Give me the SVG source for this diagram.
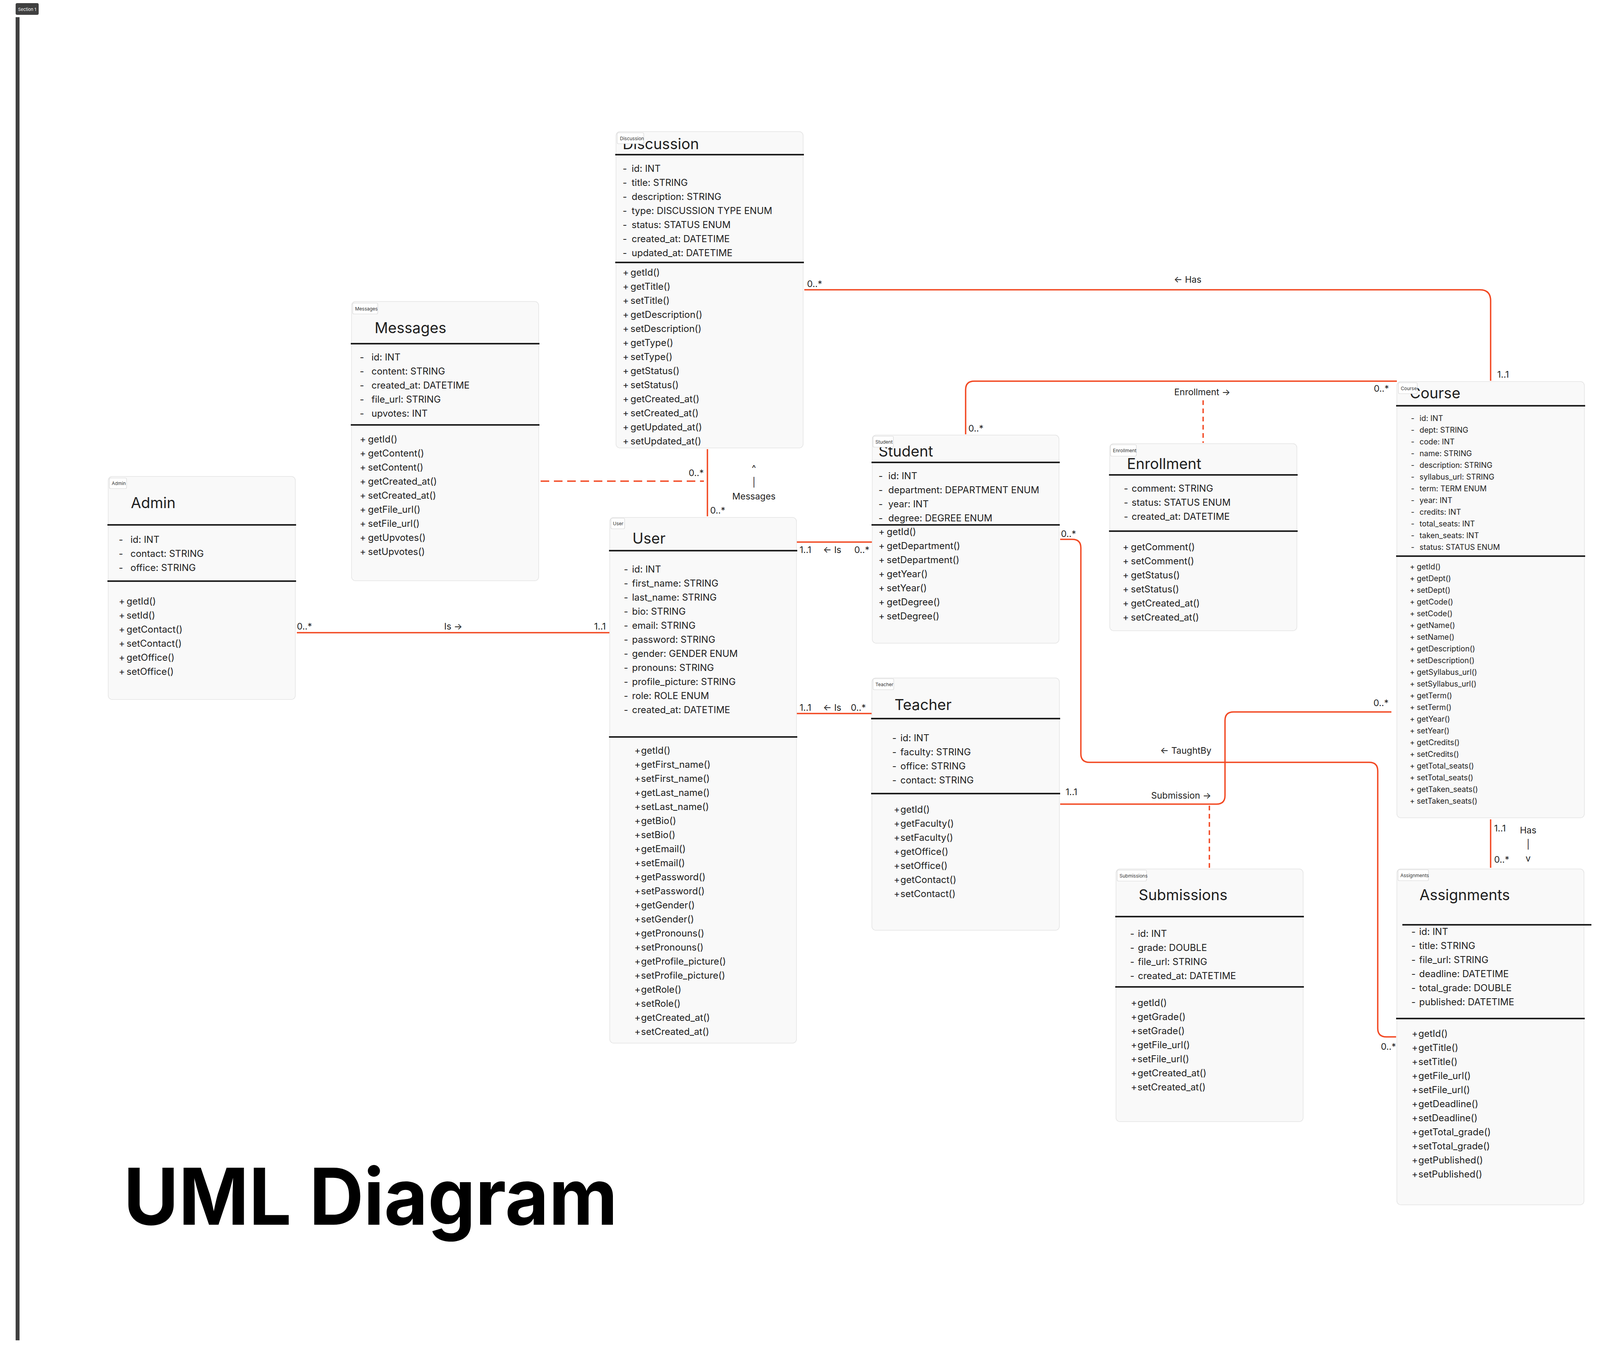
<svg xmlns="http://www.w3.org/2000/svg" width="4522" height="3467" viewBox="0 0 4522 3467">
<style>
text{font-family:Inter,"Liberation Sans",sans-serif;fill:#1e1e1e}
.box{fill:#f9f9f9;stroke:#e3e3e3;stroke-width:1.5}
.dv{stroke:#1e1e1e;stroke-width:4}
.tag{fill:#ffffff;stroke:#d6d6d6;stroke-width:1.2}
.tagt{font-size:12px;fill:#333}
.title{font-size:38px}
.row{font-size:24px}
.rowc{font-size:19.5px}
.conn{fill:none;stroke:#f24822;stroke-width:3.5}
.dash{stroke-dasharray:12 9}
.dash2{stroke-dasharray:22 12}
.lbl{font-size:23px}
.mid{text-anchor:middle}
</style>
<rect width="4522" height="3467" fill="#ffffff"/>
<g id="section-frame">
<rect x="40" y="44" width="10" height="3388" fill="#404040"/>
<rect x="4480" y="44" width="2" height="3388" fill="#4a4a4a"/>
<rect x="40" y="8" width="59" height="30" rx="4" fill="#404040"/>
<text x="69.5" y="27.5" font-size="11" style="fill:#ffffff" class="mid">Section 1</text>
</g>
<g id="connectors">
<path class="conn" d="M2059,742 H3788 Q3816,742 3816,770 V975"/>
<path class="conn" d="M2472,1112 V998 Q2472,976 2494,976 H3576"/>
<path class="conn dash" d="M3080,1025 V1134"/>
<path class="conn" d="M2040,1388 H2232"/>
<path class="conn" d="M2040,1827 H2232"/>
<path class="conn" d="M760,1620 H1560"/>
<path class="conn" d="M1811,1150 V1322"/>
<path class="conn dash2" d="M1384,1232 H1802"/>
<path class="conn" d="M2714,1381 H2745 Q2767,1381 2767,1403 V1930 Q2767,1952 2789,1952 H3505 Q3527,1952 3527,1974 V2633 Q3527,2655 3549,2655 H3574"/>
<path class="conn" d="M2714,2059 H3114 Q3136,2059 3136,2037 V1845 Q3136,1823 3158,1823 H3562"/>
<path class="conn dash" d="M3096,2063 V2222"/>
<path class="conn" d="M3816,2098 V2222"/>
<text class="lbl" x="2066" y="735">0..*</text>
<text class="lbl" x="3005" y="724">← Has</text>
<text class="lbl" x="3833" y="967">1..1</text>
<text class="lbl" x="2479" y="1105">0..*</text>
<text class="lbl" x="3517" y="1003">0..*</text>
<text class="lbl" x="3006" y="1012">Enrollment →</text>
<text class="lbl" x="2047" y="1416">1..1</text>
<text class="lbl" x="2107" y="1416">← Is</text>
<text class="lbl" x="2187" y="1416">0..*</text>
<text class="lbl" x="2047" y="1820">1..1</text>
<text class="lbl" x="2107" y="1820">← Is</text>
<text class="lbl" x="2178" y="1820">0..*</text>
<text class="lbl" x="760" y="1612">0..*</text>
<text class="lbl" x="1137" y="1612">Is →</text>
<text class="lbl" x="1521" y="1612">1..1</text>
<text class="lbl" x="1818" y="1315">0..*</text>
<text class="lbl" x="1763" y="1219">0..*</text>
<text class="lbl mid" x="1930" y="1207">^</text>
<text class="lbl mid" x="1930" y="1243">|</text>
<text class="lbl mid" x="1930" y="1279">Messages</text>
<text class="lbl" x="2716" y="1375">0..*</text>
<text class="lbl" x="2970" y="1930">← TaughtBy</text>
<text class="lbl" x="3535" y="2688">0..*</text>
<text class="lbl" x="2728" y="2036">1..1</text>
<text class="lbl" x="2947" y="2045">Submission →</text>
<text class="lbl" x="3516" y="1808">0..*</text>
<text class="lbl" x="3825" y="2129">1..1</text>
<text class="lbl" x="3825" y="2209">0..*</text>
<text class="lbl mid" x="3912" y="2134">Has</text>
<text class="lbl mid" x="3912" y="2170">|</text>
<text class="lbl mid" x="3912" y="2206">v</text>
</g>
<g id="node-discussion">
<rect class="box" x="1577" y="337" width="479" height="810" rx="10"/>
<text class="title" x="1594" y="382">Discussion</text>
<rect class="tag" x="1580" y="340" width="68" height="28" rx="3"/>
<text class="tagt" x="1587" y="359">Discussion</text>
<line class="dv" x1="1575" y1="396" x2="2058" y2="396"/>
<line class="dv" x1="1575" y1="672" x2="2058" y2="672"/>
<text class="row"><tspan x="1594" y="440">-</tspan><tspan x="1617" y="440">id: INT</tspan><tspan x="1594" y="476">-</tspan><tspan x="1617" y="476">title: STRING</tspan><tspan x="1594" y="512">-</tspan><tspan x="1617" y="512">description: STRING</tspan><tspan x="1594" y="548">-</tspan><tspan x="1617" y="548">type: DISCUSSION TYPE ENUM</tspan><tspan x="1594" y="584">-</tspan><tspan x="1617" y="584">status: STATUS ENUM</tspan><tspan x="1594" y="620">-</tspan><tspan x="1617" y="620">created_at: DATETIME</tspan><tspan x="1594" y="656">-</tspan><tspan x="1617" y="656">updated_at: DATETIME</tspan></text>
<text class="row"><tspan x="1594" y="706">+</tspan><tspan x="1614" y="706">getId()</tspan><tspan x="1594" y="742">+</tspan><tspan x="1614" y="742">getTitle()</tspan><tspan x="1594" y="778">+</tspan><tspan x="1614" y="778">setTitle()</tspan><tspan x="1594" y="814">+</tspan><tspan x="1614" y="814">getDescription()</tspan><tspan x="1594" y="850">+</tspan><tspan x="1614" y="850">setDescription()</tspan><tspan x="1594" y="886">+</tspan><tspan x="1614" y="886">getType()</tspan><tspan x="1594" y="922">+</tspan><tspan x="1614" y="922">setType()</tspan><tspan x="1594" y="958">+</tspan><tspan x="1614" y="958">getStatus()</tspan><tspan x="1594" y="994">+</tspan><tspan x="1614" y="994">setStatus()</tspan><tspan x="1594" y="1030">+</tspan><tspan x="1614" y="1030">getCreated_at()</tspan><tspan x="1594" y="1066">+</tspan><tspan x="1614" y="1066">setCreated_at()</tspan><tspan x="1594" y="1102">+</tspan><tspan x="1614" y="1102">getUpdated_at()</tspan><tspan x="1594" y="1138">+</tspan><tspan x="1614" y="1138">setUpdated_at()</tspan></text>
</g>
<g id="node-messages">
<rect class="box" x="900" y="772" width="479" height="715" rx="10"/>
<text class="title" x="959" y="853">Messages</text>
<rect class="tag" x="903" y="776" width="64" height="28" rx="3"/>
<text class="tagt" x="909" y="795">Messages</text>
<line class="dv" x1="898" y1="880" x2="1381" y2="880"/>
<line class="dv" x1="898" y1="1088" x2="1381" y2="1088"/>
<text class="row"><tspan x="921" y="923">-</tspan><tspan x="951" y="923">id: INT</tspan><tspan x="921" y="959">-</tspan><tspan x="951" y="959">content: STRING</tspan><tspan x="921" y="995">-</tspan><tspan x="951" y="995">created_at: DATETIME</tspan><tspan x="921" y="1031">-</tspan><tspan x="951" y="1031">file_url: STRING</tspan><tspan x="921" y="1067">-</tspan><tspan x="951" y="1067">upvotes: INT</tspan></text>
<text class="row"><tspan x="921" y="1133">+</tspan><tspan x="942" y="1133">getId()</tspan><tspan x="921" y="1169">+</tspan><tspan x="942" y="1169">getContent()</tspan><tspan x="921" y="1205">+</tspan><tspan x="942" y="1205">setContent()</tspan><tspan x="921" y="1241">+</tspan><tspan x="942" y="1241">getCreated_at()</tspan><tspan x="921" y="1277">+</tspan><tspan x="942" y="1277">setCreated_at()</tspan><tspan x="921" y="1313">+</tspan><tspan x="942" y="1313">getFile_url()</tspan><tspan x="921" y="1349">+</tspan><tspan x="942" y="1349">setFile_url()</tspan><tspan x="921" y="1385">+</tspan><tspan x="942" y="1385">getUpvotes()</tspan><tspan x="921" y="1421">+</tspan><tspan x="942" y="1421">setUpvotes()</tspan></text>
</g>
<g id="node-admin">
<rect class="box" x="277" y="1220" width="479" height="571" rx="10"/>
<text class="title" x="335" y="1301">Admin</text>
<rect class="tag" x="280" y="1224" width="44" height="27" rx="3"/>
<text class="tagt" x="286" y="1242">Admin</text>
<line class="dv" x1="275" y1="1344" x2="758" y2="1344"/>
<line class="dv" x1="275" y1="1488" x2="758" y2="1488"/>
<text class="row"><tspan x="304" y="1390">-</tspan><tspan x="334" y="1390">id: INT</tspan><tspan x="304" y="1426">-</tspan><tspan x="334" y="1426">contact: STRING</tspan><tspan x="304" y="1462">-</tspan><tspan x="334" y="1462">office: STRING</tspan></text>
<text class="row"><tspan x="304" y="1548">+</tspan><tspan x="324" y="1548">getId()</tspan><tspan x="304" y="1584">+</tspan><tspan x="324" y="1584">setId()</tspan><tspan x="304" y="1620">+</tspan><tspan x="324" y="1620">getContact()</tspan><tspan x="304" y="1656">+</tspan><tspan x="324" y="1656">setContact()</tspan><tspan x="304" y="1692">+</tspan><tspan x="324" y="1692">getOffice()</tspan><tspan x="304" y="1728">+</tspan><tspan x="324" y="1728">setOffice()</tspan></text>
</g>
<g id="node-user">
<rect class="box" x="1561" y="1325" width="478" height="1346" rx="10"/>
<text class="title" x="1619" y="1392">User</text>
<rect class="tag" x="1564" y="1327" width="35" height="27" rx="3"/>
<text class="tagt" x="1569" y="1345">User</text>
<line class="dv" x1="1559" y1="1410" x2="2041" y2="1410"/>
<line class="dv" x1="1559" y1="1887" x2="2041" y2="1887"/>
<text class="row"><tspan x="1597" y="1466">-</tspan><tspan x="1618" y="1466">id: INT</tspan><tspan x="1597" y="1502">-</tspan><tspan x="1618" y="1502">first_name: STRING</tspan><tspan x="1597" y="1538">-</tspan><tspan x="1618" y="1538">last_name: STRING</tspan><tspan x="1597" y="1574">-</tspan><tspan x="1618" y="1574">bio: STRING</tspan><tspan x="1597" y="1610">-</tspan><tspan x="1618" y="1610">email: STRING</tspan><tspan x="1597" y="1646">-</tspan><tspan x="1618" y="1646">password: STRING</tspan><tspan x="1597" y="1682">-</tspan><tspan x="1618" y="1682">gender: GENDER ENUM</tspan><tspan x="1597" y="1718">-</tspan><tspan x="1618" y="1718">pronouns: STRING</tspan><tspan x="1597" y="1754">-</tspan><tspan x="1618" y="1754">profile_picture: STRING</tspan><tspan x="1597" y="1790">-</tspan><tspan x="1618" y="1790">role: ROLE ENUM</tspan><tspan x="1597" y="1826">-</tspan><tspan x="1618" y="1826">created_at: DATETIME</tspan></text>
<text class="row"><tspan x="1624" y="1930">+</tspan><tspan x="1641" y="1930">getId()</tspan><tspan x="1624" y="1966">+</tspan><tspan x="1641" y="1966">getFirst_name()</tspan><tspan x="1624" y="2002">+</tspan><tspan x="1641" y="2002">setFirst_name()</tspan><tspan x="1624" y="2038">+</tspan><tspan x="1641" y="2038">getLast_name()</tspan><tspan x="1624" y="2074">+</tspan><tspan x="1641" y="2074">setLast_name()</tspan><tspan x="1624" y="2110">+</tspan><tspan x="1641" y="2110">getBio()</tspan><tspan x="1624" y="2146">+</tspan><tspan x="1641" y="2146">setBio()</tspan><tspan x="1624" y="2182">+</tspan><tspan x="1641" y="2182">getEmail()</tspan><tspan x="1624" y="2218">+</tspan><tspan x="1641" y="2218">setEmail()</tspan><tspan x="1624" y="2254">+</tspan><tspan x="1641" y="2254">getPassword()</tspan><tspan x="1624" y="2290">+</tspan><tspan x="1641" y="2290">setPassword()</tspan><tspan x="1624" y="2326">+</tspan><tspan x="1641" y="2326">getGender()</tspan><tspan x="1624" y="2362">+</tspan><tspan x="1641" y="2362">setGender()</tspan><tspan x="1624" y="2398">+</tspan><tspan x="1641" y="2398">getPronouns()</tspan><tspan x="1624" y="2434">+</tspan><tspan x="1641" y="2434">setPronouns()</tspan><tspan x="1624" y="2470">+</tspan><tspan x="1641" y="2470">getProfile_picture()</tspan><tspan x="1624" y="2506">+</tspan><tspan x="1641" y="2506">setProfile_picture()</tspan><tspan x="1624" y="2542">+</tspan><tspan x="1641" y="2542">getRole()</tspan><tspan x="1624" y="2578">+</tspan><tspan x="1641" y="2578">setRole()</tspan><tspan x="1624" y="2614">+</tspan><tspan x="1641" y="2614">getCreated_at()</tspan><tspan x="1624" y="2650">+</tspan><tspan x="1641" y="2650">setCreated_at()</tspan></text>
</g>
<g id="node-student">
<rect class="box" x="2233" y="1114" width="478" height="533" rx="10"/>
<text class="title" x="2249" y="1169">Student</text>
<rect class="tag" x="2235" y="1117" width="52" height="28" rx="3"/>
<text class="tagt" x="2241" y="1136">Student</text>
<line class="dv" x1="2231" y1="1184" x2="2713" y2="1184"/>
<line class="dv" x1="2231" y1="1344" x2="2713" y2="1344"/>
<text class="row"><tspan x="2249" y="1227">-</tspan><tspan x="2274" y="1227">id: INT</tspan><tspan x="2249" y="1263">-</tspan><tspan x="2274" y="1263">department: DEPARTMENT ENUM</tspan><tspan x="2249" y="1299">-</tspan><tspan x="2274" y="1299">year: INT</tspan><tspan x="2249" y="1335">-</tspan><tspan x="2274" y="1335">degree: DEGREE ENUM</tspan></text>
<text class="row"><tspan x="2249" y="1370">+</tspan><tspan x="2270" y="1370">getId()</tspan><tspan x="2249" y="1406">+</tspan><tspan x="2270" y="1406">getDepartment()</tspan><tspan x="2249" y="1442">+</tspan><tspan x="2270" y="1442">setDepartment()</tspan><tspan x="2249" y="1478">+</tspan><tspan x="2270" y="1478">getYear()</tspan><tspan x="2249" y="1514">+</tspan><tspan x="2270" y="1514">setYear()</tspan><tspan x="2249" y="1550">+</tspan><tspan x="2270" y="1550">getDegree()</tspan><tspan x="2249" y="1586">+</tspan><tspan x="2270" y="1586">setDegree()</tspan></text>
</g>
<g id="node-teacher">
<rect class="box" x="2232" y="1736" width="480" height="646" rx="10"/>
<text class="title" x="2290" y="1818">Teacher</text>
<rect class="tag" x="2235" y="1738" width="53" height="28" rx="3"/>
<text class="tagt" x="2241" y="1757">Teacher</text>
<line class="dv" x1="2230" y1="1840" x2="2714" y2="1840"/>
<line class="dv" x1="2230" y1="2032" x2="2714" y2="2032"/>
<text class="row"><tspan x="2284" y="1898">-</tspan><tspan x="2305" y="1898">id: INT</tspan><tspan x="2284" y="1934">-</tspan><tspan x="2305" y="1934">faculty: STRING</tspan><tspan x="2284" y="1970">-</tspan><tspan x="2305" y="1970">office: STRING</tspan><tspan x="2284" y="2006">-</tspan><tspan x="2305" y="2006">contact: STRING</tspan></text>
<text class="row"><tspan x="2288" y="2081">+</tspan><tspan x="2305" y="2081">getId()</tspan><tspan x="2288" y="2117">+</tspan><tspan x="2305" y="2117">getFaculty()</tspan><tspan x="2288" y="2153">+</tspan><tspan x="2305" y="2153">setFaculty()</tspan><tspan x="2288" y="2189">+</tspan><tspan x="2305" y="2189">getOffice()</tspan><tspan x="2288" y="2225">+</tspan><tspan x="2305" y="2225">setOffice()</tspan><tspan x="2288" y="2261">+</tspan><tspan x="2305" y="2261">getContact()</tspan><tspan x="2288" y="2297">+</tspan><tspan x="2305" y="2297">setContact()</tspan></text>
</g>
<g id="node-enrollment">
<rect class="box" x="2841" y="1136" width="479" height="479" rx="10"/>
<text class="title" x="2885" y="1201">Enrollment</text>
<rect class="tag" x="2843" y="1139" width="66" height="29" rx="3"/>
<text class="tagt" x="2849" y="1158">Enrollment</text>
<line class="dv" x1="2839" y1="1216" x2="3322" y2="1216"/>
<line class="dv" x1="2839" y1="1360" x2="3322" y2="1360"/>
<text class="row"><tspan x="2877" y="1259">-</tspan><tspan x="2897" y="1259">comment: STRING</tspan><tspan x="2877" y="1295">-</tspan><tspan x="2897" y="1295">status: STATUS ENUM</tspan><tspan x="2877" y="1331">-</tspan><tspan x="2897" y="1331">created_at: DATETIME</tspan></text>
<text class="row"><tspan x="2874" y="1409">+</tspan><tspan x="2895" y="1409">getComment()</tspan><tspan x="2874" y="1445">+</tspan><tspan x="2895" y="1445">setComment()</tspan><tspan x="2874" y="1481">+</tspan><tspan x="2895" y="1481">getStatus()</tspan><tspan x="2874" y="1517">+</tspan><tspan x="2895" y="1517">setStatus()</tspan><tspan x="2874" y="1553">+</tspan><tspan x="2895" y="1553">getCreated_at()</tspan><tspan x="2874" y="1589">+</tspan><tspan x="2895" y="1589">setCreated_at()</tspan></text>
</g>
<g id="node-course">
<rect class="box" x="3576" y="977" width="480" height="1117" rx="10"/>
<text class="title" x="3609" y="1020">Course</text>
<rect class="tag" x="3580" y="980" width="48" height="28" rx="3"/>
<text class="tagt" x="3586" y="999">Course</text>
<line class="dv" x1="3574" y1="1039" x2="4058" y2="1039"/>
<line class="dv" x1="3574" y1="1424" x2="4058" y2="1424"/>
<text class="rowc"><tspan x="3612" y="1078">-</tspan><tspan x="3634" y="1078">id: INT</tspan><tspan x="3612" y="1108">-</tspan><tspan x="3634" y="1108">dept: STRING</tspan><tspan x="3612" y="1138">-</tspan><tspan x="3634" y="1138">code: INT</tspan><tspan x="3612" y="1168">-</tspan><tspan x="3634" y="1168">name: STRING</tspan><tspan x="3612" y="1198">-</tspan><tspan x="3634" y="1198">description: STRING</tspan><tspan x="3612" y="1228">-</tspan><tspan x="3634" y="1228">syllabus_url: STRING</tspan><tspan x="3612" y="1258">-</tspan><tspan x="3634" y="1258">term: TERM ENUM</tspan><tspan x="3612" y="1288">-</tspan><tspan x="3634" y="1288">year: INT</tspan><tspan x="3612" y="1318">-</tspan><tspan x="3634" y="1318">credits: INT</tspan><tspan x="3612" y="1348">-</tspan><tspan x="3634" y="1348">total_seats: INT</tspan><tspan x="3612" y="1378">-</tspan><tspan x="3634" y="1378">taken_seats: INT</tspan><tspan x="3612" y="1408">-</tspan><tspan x="3634" y="1408">status: STATUS ENUM</tspan></text>
<text class="rowc"><tspan x="3609" y="1458">+</tspan><tspan x="3627" y="1458">getId()</tspan><tspan x="3609" y="1488">+</tspan><tspan x="3627" y="1488">getDept()</tspan><tspan x="3609" y="1518">+</tspan><tspan x="3627" y="1518">setDept()</tspan><tspan x="3609" y="1548">+</tspan><tspan x="3627" y="1548">getCode()</tspan><tspan x="3609" y="1578">+</tspan><tspan x="3627" y="1578">setCode()</tspan><tspan x="3609" y="1608">+</tspan><tspan x="3627" y="1608">getName()</tspan><tspan x="3609" y="1638">+</tspan><tspan x="3627" y="1638">setName()</tspan><tspan x="3609" y="1668">+</tspan><tspan x="3627" y="1668">getDescription()</tspan><tspan x="3609" y="1698">+</tspan><tspan x="3627" y="1698">setDescription()</tspan><tspan x="3609" y="1728">+</tspan><tspan x="3627" y="1728">getSyllabus_url()</tspan><tspan x="3609" y="1758">+</tspan><tspan x="3627" y="1758">setSyllabus_url()</tspan><tspan x="3609" y="1788">+</tspan><tspan x="3627" y="1788">getTerm()</tspan><tspan x="3609" y="1818">+</tspan><tspan x="3627" y="1818">setTerm()</tspan><tspan x="3609" y="1848">+</tspan><tspan x="3627" y="1848">getYear()</tspan><tspan x="3609" y="1878">+</tspan><tspan x="3627" y="1878">setYear()</tspan><tspan x="3609" y="1908">+</tspan><tspan x="3627" y="1908">getCredits()</tspan><tspan x="3609" y="1938">+</tspan><tspan x="3627" y="1938">setCredits()</tspan><tspan x="3609" y="1968">+</tspan><tspan x="3627" y="1968">getTotal_seats()</tspan><tspan x="3609" y="1998">+</tspan><tspan x="3627" y="1998">setTotal_seats()</tspan><tspan x="3609" y="2028">+</tspan><tspan x="3627" y="2028">getTaken_seats()</tspan><tspan x="3609" y="2058">+</tspan><tspan x="3627" y="2058">setTaken_seats()</tspan></text>
</g>
<g id="node-submissions">
<rect class="box" x="2857" y="2225" width="479" height="647" rx="10"/>
<text class="title" x="2915" y="2305">Submissions</text>
<rect class="tag" x="2860" y="2228" width="75" height="28" rx="3"/>
<text class="tagt" x="2866" y="2247">Submissions</text>
<line class="dv" x1="2855" y1="2347" x2="3338" y2="2347"/>
<line class="dv" x1="2855" y1="2527" x2="3338" y2="2527"/>
<text class="row"><tspan x="2893" y="2399">-</tspan><tspan x="2913" y="2399">id: INT</tspan><tspan x="2893" y="2435">-</tspan><tspan x="2913" y="2435">grade: DOUBLE</tspan><tspan x="2893" y="2471">-</tspan><tspan x="2913" y="2471">file_url: STRING</tspan><tspan x="2893" y="2507">-</tspan><tspan x="2913" y="2507">created_at: DATETIME</tspan></text>
<text class="row"><tspan x="2895" y="2576">+</tspan><tspan x="2912" y="2576">getId()</tspan><tspan x="2895" y="2612">+</tspan><tspan x="2912" y="2612">getGrade()</tspan><tspan x="2895" y="2648">+</tspan><tspan x="2912" y="2648">setGrade()</tspan><tspan x="2895" y="2684">+</tspan><tspan x="2912" y="2684">getFile_url()</tspan><tspan x="2895" y="2720">+</tspan><tspan x="2912" y="2720">setFile_url()</tspan><tspan x="2895" y="2756">+</tspan><tspan x="2912" y="2756">getCreated_at()</tspan><tspan x="2895" y="2792">+</tspan><tspan x="2912" y="2792">setCreated_at()</tspan></text>
</g>
<g id="node-assignments">
<rect class="box" x="3576" y="2225" width="479" height="860" rx="10"/>
<text class="title" x="3634" y="2305">Assignments</text>
<rect class="tag" x="3579" y="2227" width="78" height="28" rx="3"/>
<text class="tagt" x="3585" y="2246">Assignments</text>
<line class="dv" x1="3590" y1="2368" x2="4074" y2="2368"/>
<line class="dv" x1="3574" y1="2608" x2="4057" y2="2608"/>
<text class="row"><tspan x="3613" y="2394">-</tspan><tspan x="3633" y="2394">id: INT</tspan><tspan x="3613" y="2430">-</tspan><tspan x="3633" y="2430">title: STRING</tspan><tspan x="3613" y="2466">-</tspan><tspan x="3633" y="2466">file_url: STRING</tspan><tspan x="3613" y="2502">-</tspan><tspan x="3633" y="2502">deadline: DATETIME</tspan><tspan x="3613" y="2538">-</tspan><tspan x="3633" y="2538">total_grade: DOUBLE</tspan><tspan x="3613" y="2574">-</tspan><tspan x="3633" y="2574">published: DATETIME</tspan></text>
<text class="row"><tspan x="3614" y="2655">+</tspan><tspan x="3631" y="2655">getId()</tspan><tspan x="3614" y="2691">+</tspan><tspan x="3631" y="2691">getTitle()</tspan><tspan x="3614" y="2727">+</tspan><tspan x="3631" y="2727">setTitle()</tspan><tspan x="3614" y="2763">+</tspan><tspan x="3631" y="2763">getFile_url()</tspan><tspan x="3614" y="2799">+</tspan><tspan x="3631" y="2799">setFile_url()</tspan><tspan x="3614" y="2835">+</tspan><tspan x="3631" y="2835">getDeadline()</tspan><tspan x="3614" y="2871">+</tspan><tspan x="3631" y="2871">setDeadline()</tspan><tspan x="3614" y="2907">+</tspan><tspan x="3631" y="2907">getTotal_grade()</tspan><tspan x="3614" y="2943">+</tspan><tspan x="3631" y="2943">setTotal_grade()</tspan><tspan x="3614" y="2979">+</tspan><tspan x="3631" y="2979">getPublished()</tspan><tspan x="3614" y="3015">+</tspan><tspan x="3631" y="3015">setPublished()</tspan></text>
</g>
<g id="page-title">
<text x="316" y="3136" font-size="200" font-weight="700" textLength="1265" lengthAdjust="spacingAndGlyphs" style="fill:#000000">UML Diagram</text>
</g>
</svg>
